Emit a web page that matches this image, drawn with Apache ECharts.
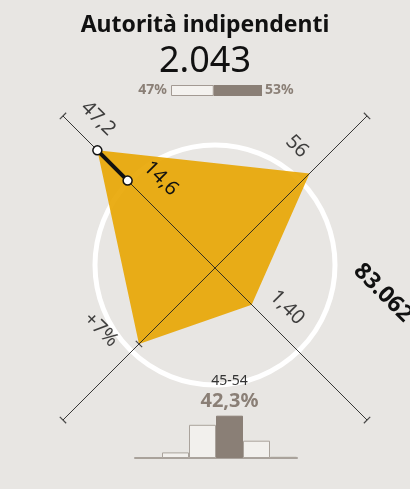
<!DOCTYPE html>
<html>
<head>
<meta charset="utf-8">
<script src="https://cdn.jsdelivr.net/npm/echarts@6/dist/echarts.min.js"></script>
<style>
  html, body { margin: 0; padding: 0; background: #e8e6e3; }
  #chart { width: 410px; height: 489px; }
</style>
</head>
<body>
<div id="chart"></div>
<script>
// ── Dati ────────────────────────────────────────────────────────────────
const TITLE = 'Autorità indipendenti';
const TOTAL = '2.043';
const SIDE_LABEL = '83.062';

const GENDER_VALUES = [47, 53];
const GENDER_LABELS = ['47%', '53%'];

// assi: alto-sx, alto-dx, basso-dx, basso-sx
const AXIS_VALUES = [47.2, 56, 1.40, 7];
const AXIS_LABELS = ['47,2', '56', '1,40', '+7%'];
const INNER_VALUE = 14.6;
const INNER_LABEL = '14,6';

const AGE_GROUPS = ['<25', '25-34', '35-44', '45-54', '55-64', '65+'];
const AGE_SHARE = [0.4, 5.6, 33.2, 42.3, 17.3, 1.2];
const AGE_HIGHLIGHT = 3;

// ── Scale degli assi ────────────────────────────────────────────────────
const AXIS_ANGLE = [135, 45, 315, 225];
const AXIS_MAX = [61, 90, 5.8, 14];
const INNER_MAX = 25.4;

const FONT = '"Noto Sans", sans-serif';
const INK = '#111';
const GREY = '#8a7f76';

// offset etichette (nel riferimento ruotato del testo)
const LABEL_OFFSET = [[-22, -23], [-28, -10], [27, -23], [-37, 17]];

const norm = (v, i) => v / AXIS_MAX[i];
const vertices = AXIS_VALUES.map((v, i) => [norm(v, i), AXIS_ANGLE[i]]);

const chart = echarts.init(document.getElementById('chart'));

const axisSeries = [[135, 315], [45, 225]].map(pair => ({
  type: 'line', coordinateSystem: 'polar', polarIndex: 0,
  data: pair.map(a => [1, a]),
  symbol: 'none', silent: true, z: 4,
  lineStyle: { color: '#222', width: 0.9 },
}));

const ticks = AXIS_ANGLE.map(a => ({ value: [1, a], symbolRotate: a + 90 }))
  .concat([{ value: vertices[3], symbolRotate: AXIS_ANGLE[3] + 90 }]);

chart.setOption({
  backgroundColor: '#e8e6e3',
  animation: false,
  title: [
    { text: TITLE, left: 'center', top: 9,
      textStyle: { fontFamily: FONT, fontSize: 23, fontWeight: 'bold', color: '#111' } },
    { text: TOTAL, left: 'center', top: 39,
      textStyle: { fontFamily: FONT, fontSize: 36, fontWeight: 'normal', color: '#111' } },
  ],
  polar: [
    { center: [215, 268], radius: 215 },
    { center: [215, 265], radius: 120 },
  ],
  angleAxis: [
    { polarIndex: 0, type: 'value', min: 0, max: 360, startAngle: 0, clockwise: false, show: false },
    { polarIndex: 1, type: 'value', min: 0, max: 360, startAngle: 0, clockwise: false,
      axisLine: { lineStyle: { color: '#fff', width: 5 } },
      axisTick: { show: false }, axisLabel: { show: false }, splitLine: { show: false } },
  ],
  radiusAxis: [
    { polarIndex: 0, type: 'value', min: 0, max: 1, show: false },
    { polarIndex: 1, type: 'value', min: 0, max: 1, show: false },
  ],
  grid: [
    { left: 171, top: 85, width: 91, height: 11 },
    { left: 135, top: 408, width: 162, height: 50 },
  ],
  xAxis: [
    { gridIndex: 0, type: 'value', min: 0, max: 100, show: false },
    { gridIndex: 1, type: 'category', data: AGE_GROUPS,
      axisLine: { lineStyle: { color: '#a9a29c', width: 2 } },
      axisTick: { show: false }, axisLabel: { show: false } },
  ],
  yAxis: [
    { gridIndex: 0, type: 'category', data: ['g'], show: false },
    { gridIndex: 1, type: 'value', min: 0, max: 50, show: false },
  ],
  graphic: [{
    type: 'text', x: 383, y: 293, rotation: -Math.PI / 4,
    style: {
      text: SIDE_LABEL, fill: '#111', font: 'bold 23px "Noto Sans"',
      align: 'center', verticalAlign: 'middle', textAlign: 'center', textVerticalAlign: 'middle',
    },
  }],
  series: [
    // poligono
    {
      type: 'line', coordinateSystem: 'polar', polarIndex: 0,
      data: vertices.concat([vertices[0]]),
      symbol: 'none', silent: true, z: 3,
      lineStyle: { width: 0 },
      areaStyle: { color: 'rgb(232,165,0)', opacity: 0.9 },
    },
    ...axisSeries,
    // tacche
    {
      type: 'scatter', coordinateSystem: 'polar', polarIndex: 0,
      data: ticks, symbol: 'rect', symbolSize: [9, 1.2], z: 5, silent: true,
      itemStyle: { color: '#222' },
    },
    // segmento 14,6 → 47,2
    {
      type: 'line', coordinateSystem: 'polar', polarIndex: 0,
      data: [[INNER_VALUE / INNER_MAX, AXIS_ANGLE[0]], vertices[0]],
      symbol: 'circle', symbolSize: 9, z: 6, silent: true,
      lineStyle: { color: INK, width: 4 },
      itemStyle: { color: '#fff', borderColor: INK, borderWidth: 1.5 },
      label: {
        show: true, position: 'inside', rotate: -45, offset: [22, -25],
        fontFamily: FONT, fontSize: 20, color: INK,
        formatter: p => (p.dataIndex === 0 ? INNER_LABEL : ''),
      },
    },
    // etichette vertici
    {
      type: 'scatter', coordinateSystem: 'polar', polarIndex: 0,
      data: vertices.map((v, i) => ({
        value: v,
        label: { offset: LABEL_OFFSET[i] },
      })),
      symbolSize: 0, z: 7, silent: true,
      label: {
        show: true, position: 'inside', rotate: -45,
        fontFamily: FONT, fontSize: 20, color: INK,
        formatter: p => AXIS_LABELS[p.dataIndex],
      },
    },
    // barra genere
    {
      type: 'bar', xAxisIndex: 0, yAxisIndex: 0, stack: 'g', barWidth: 11,
      data: [GENDER_VALUES[0]], silent: true,
      itemStyle: { color: '#f4f2ef', borderColor: '#a39a93', borderWidth: 1 },
      label: { show: true, position: 'left', distance: 4, formatter: GENDER_LABELS[0],
        fontFamily: FONT, fontSize: 14, fontWeight: 'bold', color: GREY },
    },
    {
      type: 'bar', xAxisIndex: 0, yAxisIndex: 0, stack: 'g', barWidth: 11,
      data: [GENDER_VALUES[1]], silent: true,
      itemStyle: { color: GREY },
      label: { show: true, position: 'right', distance: 3, formatter: GENDER_LABELS[1],
        fontFamily: FONT, fontSize: 14, fontWeight: 'bold', color: GREY },
    },
    // istogramma età
    {
      type: 'bar', xAxisIndex: 1, yAxisIndex: 1, barCategoryGap: 0, silent: true,
      data: AGE_SHARE.map((v, i) => i === AGE_HIGHLIGHT ? {
        value: v,
        itemStyle: { color: GREY, borderColor: GREY },
        label: {
          show: true, position: 'top', distance: 3,
          formatter: `{a|${AGE_GROUPS[i]}}\n{b|${String(v).replace('.', ',')}%}`,
          rich: {
            a: { fontFamily: FONT, fontSize: 14, color: '#333', lineHeight: 20 },
            b: { fontFamily: FONT, fontSize: 20, fontWeight: 'bold', color: GREY, lineHeight: 22 },
          },
        },
      } : v),
      itemStyle: { color: '#f2f0ed', borderColor: '#aaa39c', borderWidth: 1 },
    },
  ],
});
</script>
</body>
</html>
